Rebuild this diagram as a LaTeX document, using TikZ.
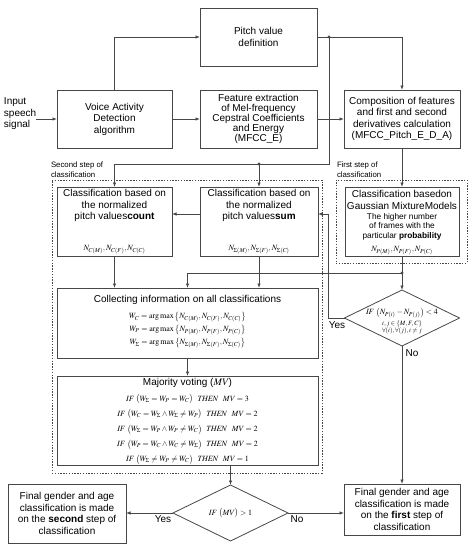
\documentclass[tikz,border=0pt]{standalone}
\usepackage{mathptmx}
\usepackage[no-math]{fontspec}
\setmainfont{Liberation Sans}
\usetikzlibrary{arrows.meta,shapes.geometric}
\definecolor{linec}{gray}{0.28}
\begin{document}
\begin{tikzpicture}[x=1pt,y=-1pt,
  every node/.style={inner sep=0pt, outer sep=0pt},
  box/.style={draw=linec, line width=0.8pt, rectangle},
  dbox/.style={draw=linec, line width=0.7pt, rectangle, dash pattern=on 1.4pt off 1.4pt},
  dia/.style={draw=linec, line width=0.8pt, diamond, aspect=2},
  txt/.style={align=center, font=\fontsize{10}{11.5}\selectfont},
  ftxt/.style={align=center, font=\fontsize{10}{10}\selectfont},
  stxt/.style={align=center, font=\fontsize{8.3}{9.5}\selectfont},
  lbl/.style={align=left, font=\fontsize{7.8}{10}\selectfont},
  mth/.style={align=center, font=\fontsize{8}{9}\selectfont},
  ln/.style={draw=linec, line width=0.8pt},
  arr/.style={ln, -{Latex[length=4.5pt,width=3.5pt]}},
]
\useasboundingbox (0,0) rectangle (472,550);

% dashed groups
\node[dbox, minimum width=270pt, minimum height=293pt] (second) at (187,326.5) {};
\node[dbox, minimum width=131pt, minimum height=83pt] (first) at (401.5,221.5) {};
\node[lbl, anchor=south west] (secondlbl) at (51,178) {Second step of\\classification};
\node[lbl, anchor=south west] (firstlbl) at (337,178) {First step of\\classification};

% top row
\node[txt, anchor=west, align=left] (input) at (4,114) {Input\\speech\\signal};
\node[box, minimum width=115pt, minimum height=58pt] (vad) at (114.5,119) {};
\node[txt] (vadt) at (vad.center) {Voice Activity\\Detection\\algorithm};
\node[box, minimum width=117pt, minimum height=58pt] (pitch) at (258.5,37) {};
\node[txt] (pitcht) at (pitch.center) {Pitch value\\definition};
\node[box, minimum width=117pt, minimum height=58pt] (feat) at (258.5,119) {};
\node[ftxt] (featt) at (feat.center) {Feature extraction\\of Mel-frequency\\Cepstral Coefficients\\and Energy\\(MFCC\_E)};
\node[box, minimum width=116pt, minimum height=58pt] (comp) at (402,119) {};
\node[txt] (compt) at (comp.center) {Composition of features\\and first and second\\derivatives calculation\\(MFCC\_Pitch\_E\_D\_A)};

% classification boxes
\node[box, minimum width=115pt, minimum height=69pt] (count) at (114.5,221.5) {};
\node[txt] (countt) at (114.5,205.5) {Classification based on\\the normalized\\pitch values\textbf{count}};
\node[mth] (countm) at (114.5,250) {$N_{C(M)},N_{C(F)},N_{C(C)}$};
\node[box, minimum width=118pt, minimum height=69pt] (sum) at (259,221.5) {};
\node[txt] (sumt) at (259,205.5) {Classification based on\\the normalized\\pitch values\textbf{sum}};
\node[mth] (summ) at (259,250) {$N_{\Sigma(M)},N_{\Sigma(F)},N_{\Sigma(C)}$};
\node[box, minimum width=114pt, minimum height=69pt] (gmm) at (402,221.5) {};
\node[txt] (gmmt) at (402,200) {Classification basedon\\Gaussian MixtureModels};
\node[stxt] (gmms) at (402,226.5) {The higher number\\of frames with the\\particular \textbf{probability}};
\node[mth] (gmmm) at (402,250.5) {$N_{P(M)},N_{P(F)},N_{P(C)}$};

% collecting
\node[box, minimum width=261pt, minimum height=70pt] (collect) at (187.5,323) {};
\node[txt] (collectt) at (187.5,300) {Collecting information on all classifications};
\node[mth] (collectm) at (187.5,330) {$W_C=\mathrm{arg\,max}\,\bigl\{N_{C(M)},N_{C(F)},N_{C(C)}\bigr\}$\\[2pt]
$W_P=\mathrm{arg\,max}\,\bigl\{N_{P(M)},N_{P(F)},N_{P(C)}\bigr\}$\\[2pt]
$W_\Sigma=\mathrm{arg\,max}\,\bigl\{N_{\Sigma(M)},N_{\Sigma(F)},N_{\Sigma(C)}\bigr\}$};

% majority voting
\node[box, minimum width=261pt, minimum height=89pt] (major) at (187.5,420.5) {};
\node[txt] (majort) at (187.5,382.5) {Majority voting ($\mathit{MV}$)};
\node[mth] (majorm) at (187.5,429.5) {$\mathit{IF}\ \bigl(W_\Sigma=W_P=W_C\bigr)\ \ \mathit{THEN}\ \ \mathit{MV}=3$\\[4.5pt]
$\mathit{IF}\ \bigl(W_C=W_\Sigma\wedge W_\Sigma\neq W_P\bigr)\ \ \mathit{THEN}\ \ \mathit{MV}=2$\\[4.5pt]
$\mathit{IF}\ \bigl(W_\Sigma=W_P\wedge W_P\neq W_C\bigr)\ \ \mathit{THEN}\ \ \mathit{MV}=2$\\[4.5pt]
$\mathit{IF}\ \bigl(W_P=W_C\wedge W_C\neq W_\Sigma\bigr)\ \ \mathit{THEN}\ \ \mathit{MV}=2$\\[4.5pt]
$\mathit{IF}\ \bigl(W_\Sigma\neq W_P\neq W_C\bigr)\ \ \mathit{THEN}\ \ \mathit{MV}=1$};

% decisions
\node[dia, minimum width=115pt, minimum height=56pt] (d1) at (402,318) {};
\node[mth] (d1a) at (402,313) {$\mathit{IF}\ \bigl(N_{P(i)}-N_{P(j)}\bigr)<4$};
\node[align=center, font=\fontsize{6.5}{7.5}\selectfont] (d1b) at (402,327.5) {$i,j\in\{M,F,C\}$\\$\forall(i),\forall(j),i\neq j$};
\node[dia, minimum width=115pt, minimum height=56pt] (d2) at (230.5,513) {};
\node[mth] (d2t) at (d2.center) {$\mathit{IF}\ \bigl(\mathit{MV}\bigr)>1$};

% final boxes
\node[box, minimum width=118pt, minimum height=59pt] (fin2) at (67,513.5) {};
\node[txt] (fin2t) at (fin2.center) {Final gender and age\\classification is made\\on the \textbf{second} step of\\classification};
\node[box, minimum width=116pt, minimum height=51pt] (fin1) at (402,509.5) {};
\node[txt] (fin1t) at (fin1.center) {Final gender and age\\classification is made\\on the \textbf{first} step of\\classification};

% labels
\node[txt] (yes1) at (337,325) {Yes};
\node[txt] (no1) at (412,353) {No};
\node[txt] (yes2) at (163,519) {Yes};
\node[txt] (no2) at (297,519) {No};

% helper coordinates
\coordinate (dA) at (329,37);
\coordinate (jA) at (329,164);
\coordinate (dB) at (259,164);
\coordinate (dC) at (402,273);
\coordinate (yA) at (0,214);
\coordinate (xY) at (328,0);

% connectors
\draw[arr] (input.east |- vad.west) -- (vad.west);
\draw[arr] (vad.north) |- (pitch.west);
\draw[arr] (vad.east) -- (feat.west);
\draw[arr] (feat.east) -- (comp.west);
\draw[arr] (pitch.east) -| (comp.north);
\draw[arr] (dA) -- (jA) -| (count.north);
\draw[arr] (dB) -- (sum.north);
\draw[arr] (comp.south) -- (gmm.north);
\draw[arr] (sum.west |- yA) -- (count.east |- yA);
\draw[arr] (d1.west) -- (xY |- d1.west) -- (xY |- yA) -- (sum.east |- yA);
\draw[arr] (gmm.south) -- (d1.north);
\draw[arr] (dC) -| (collect.north);
\draw[arr] (count.south) -- (count.south |- collect.north);
\draw[arr] (sum.south) -- (sum.south |- collect.north);
\draw[arr] (collect.south) -- (major.north);
\draw[arr] (d2.north |- major.south) -- (d2.north);
\draw[arr] (d2.west) -- (d2.west -| fin2.east);
\draw[arr] (d2.east) -- (d2.east -| fin1.west);
\draw[arr] (d1.south) -- (fin1.north);

\fill[linec] (dA) circle (1.7);
\fill[linec] (dB) circle (1.7);
\fill[linec] (dC) circle (1.7);
\end{tikzpicture}
\end{document}
